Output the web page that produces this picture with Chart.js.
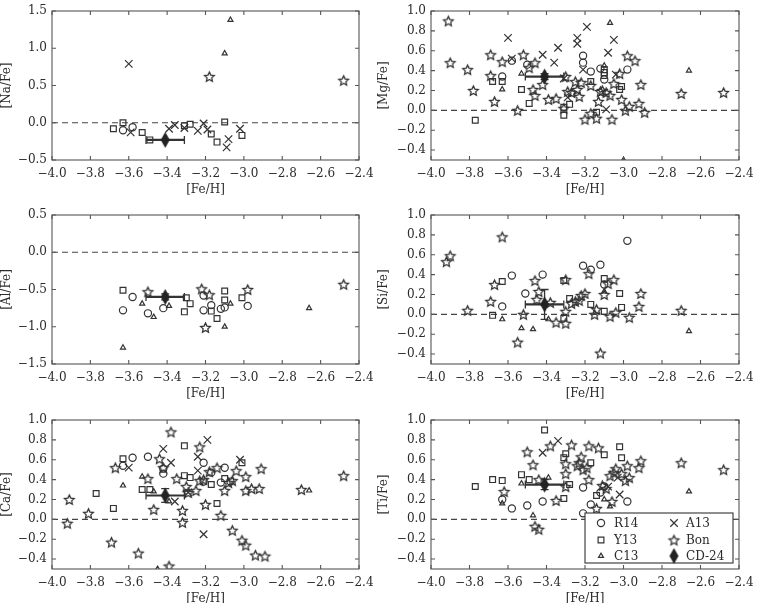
<!DOCTYPE html>
<html>
<head>
<meta charset="utf-8">
<script src="https://cdn.jsdelivr.net/npm/chart.js@4.4.0/dist/chart.umd.min.js"></script>
<style>
html, body { margin: 0; padding: 0; background: #fff; overflow: hidden; }
#wrap { position: relative; width: 762px; height: 603px; }
canvas { position: absolute; }
</style>
</head>
<body>
<div id="wrap">
  <canvas id="cNa" width="381" height="200" style="left:0;top:0"></canvas>
  <canvas id="cMg" width="385" height="200" style="left:377px;top:0"></canvas>
  <canvas id="cAl" width="381" height="200" style="left:0;top:204px"></canvas>
  <canvas id="cSi" width="385" height="200" style="left:377px;top:204px"></canvas>
  <canvas id="cCa" width="381" height="200" style="left:0;top:409px"></canvas>
  <canvas id="cTi" width="385" height="200" style="left:377px;top:409px"></canvas>
</div>
<script>
// surveys, in legend order
const surveys = ['R14', 'Y13', 'C13', 'A13', 'Bon', 'CD-24'];

// axis ticks
const feTicks = [-4.0, -3.8, -3.6, -3.4, -3.2, -3.0, -2.8, -2.6, -2.4];
const naTicks = [-0.5, 0.0, 0.5, 1.0, 1.5];
const alTicks = [-1.5, -1.0, -0.5, 0.0, 0.5];
const mgTicks = [-0.4, -0.2, 0.0, 0.2, 0.4, 0.6, 0.8, 1.0];
const siTicks = [-0.4, -0.2, 0.0, 0.2, 0.4, 0.6, 0.8, 1.0];
const caTicks = [-0.4, -0.2, 0.0, 0.2, 0.4, 0.6, 0.8, 1.0];
const tiTicks = [-0.4, -0.2, 0.0, 0.2, 0.4, 0.6, 0.8, 1.0];

// solar reference line
const refLine = [[-4.0, 0.0], [-2.4, 0.0]];

// [Na/Fe] vs [Fe/H]
const naR14 = [[-3.63,-0.10],[-3.58,-0.06]];
const naY13 = [[-3.68,-0.08],[-3.63,0.00],[-3.53,-0.13],[-3.49,-0.23],[-3.31,-0.04],[-3.28,-0.02],[-3.17,-0.15],[-3.14,-0.26],[-3.10,0.01],[-3.01,-0.17]];
const naC13 = [[-3.07,1.38],[-3.10,0.93]];
const naA13 = [[-3.60,0.79],[-3.59,-0.13],[-3.39,-0.08],[-3.36,-0.03],[-3.31,-0.07],[-3.24,-0.11],[-3.21,-0.01],[-3.19,-0.09],[-3.08,-0.22],[-3.09,-0.33],[-3.02,-0.08]];
const naBon = [[-3.18,0.62],[-2.48,0.57]];
const naCD = [-3.41, -0.23], naErr = [0.10, 0.0];

// [Mg/Fe]
const mgR14 = [[-3.58,0.50],[-3.63,0.34],[-3.50,0.46],[-3.21,0.55],[-3.21,0.48],[-3.17,0.39],[-3.12,0.42],[-3.10,0.31],[-2.98,0.41]];
const mgY13 = [[-3.68,0.29],[-3.63,0.29],[-3.77,-0.10],[-3.53,0.21],[-3.49,0.07],[-3.31,-0.05],[-3.28,0.06],[-3.31,0.03],[-3.17,0.29],[-3.14,-0.02],[-3.10,0.41],[-3.10,0.38],[-3.10,0.35],[-3.01,0.24],[-3.02,0.21]];
const mgC13 = [[-3.07,0.88],[-3.53,0.37],[-3.63,0.21],[-3.10,0.45],[-2.66,0.40],[-3.00,-0.50]];
const mgA13 = [[-3.60,0.73],[-3.58,0.52],[-3.42,0.56],[-3.36,0.48],[-3.34,0.63],[-3.31,0.32],[-3.24,0.73],[-3.24,0.67],[-3.19,0.84],[-3.21,0.41],[-3.05,0.71],[-3.08,0.58],[-3.09,0.01],[-3.29,0.13],[-3.04,0.36]];
const mgBon = [[-3.91,0.90],[-3.90,0.48],[-3.81,0.41],[-3.78,0.20],[-3.67,0.09],[-3.69,0.56],[-3.69,0.35],[-3.63,0.49],[-3.55,0.00],[-3.52,0.56],[-3.49,0.43],[-3.46,0.48],[-3.47,0.21],[-3.46,0.15],[-3.42,0.26],[-3.39,0.11],[-3.35,0.12],[-3.31,0.02],[-3.30,0.34],[-3.29,0.19],[-3.27,0.18],[-3.25,0.29],[-3.24,0.21],[-3.23,0.14],[-3.22,0.28],[-3.20,-0.09],[-3.17,0.25],[-3.17,-0.03],[-3.14,-0.08],[-3.13,0.09],[-3.12,0.19],[-3.11,0.20],[-3.09,0.18],[-3.07,0.15],[-3.06,-0.09],[-3.05,0.27],[-3.02,0.37],[-3.01,0.11],[-2.99,0.00],[-2.98,0.55],[-2.97,0.04],[-2.94,0.50],[-2.92,0.07],[-2.91,0.26],[-2.89,-0.02],[-2.70,0.17],[-2.48,0.18]];
const mgCD = [-3.41, 0.34], mgErr = [0.10, 0.03];

// [Al/Fe]
const alR14 = [[-3.63,-0.78],[-3.58,-0.60],[-3.50,-0.82],[-3.42,-0.75],[-3.21,-0.58],[-3.21,-0.78],[-3.17,-0.71],[-3.12,-0.76],[-3.10,-0.74],[-2.98,-0.72]];
const alY13 = [[-3.63,-0.51],[-3.30,-0.61],[-3.28,-0.69],[-3.31,-0.80],[-3.17,-0.79],[-3.14,-0.89],[-3.10,-0.52],[-3.10,-0.64],[-3.01,-0.61]];
const alC13 = [[-3.63,-1.28],[-3.53,-0.69],[-3.47,-0.87],[-3.39,-0.72],[-3.07,-0.69],[-3.10,-1.00],[-2.66,-0.75]];
const alA13 = [];
const alBon = [[-3.50,-0.53],[-3.22,-0.49],[-3.18,-0.57],[-3.20,-1.01],[-2.98,-0.50],[-2.48,-0.43]];
const alCD = [-3.41, -0.60], alErr = [0.10, 0.04];

// [Si/Fe]
const siR14 = [[-3.58,0.39],[-3.63,0.08],[-3.51,0.21],[-3.42,0.40],[-3.21,0.49],[-3.17,0.45],[-3.12,0.50],[-3.10,0.30],[-2.98,0.74]];
const siY13 = [[-3.68,-0.01],[-3.63,0.33],[-3.31,0.34],[-3.31,-0.04],[-3.28,0.16],[-3.17,0.10],[-3.10,0.36],[-3.10,0.03],[-3.02,0.21],[-3.01,0.07]];
const siC13 = [[-3.63,-0.05],[-3.53,-0.14],[-3.47,-0.15],[-3.39,-0.05],[-3.10,0.23],[-2.66,-0.17]];
const siA13 = [];
const siBon = [[-3.92,0.53],[-3.90,0.59],[-3.81,0.04],[-3.63,0.78],[-3.69,0.13],[-3.67,0.30],[-3.55,-0.28],[-3.52,0.00],[-3.46,0.34],[-3.44,0.23],[-3.45,0.15],[-3.38,0.12],[-3.35,-0.08],[-3.30,-0.09],[-3.30,0.03],[-3.30,0.35],[-3.27,0.11],[-3.25,0.13],[-3.23,0.14],[-3.22,0.19],[-3.20,0.21],[-3.18,0.41],[-3.15,0.00],[-3.14,0.05],[-3.12,-0.39],[-3.10,0.20],[-3.07,-0.02],[-3.08,0.31],[-3.05,0.35],[-3.04,0.02],[-2.97,-0.03],[-2.92,0.08],[-2.91,0.21],[-2.70,0.04]];
const siCD = [-3.41, 0.10], siErr = [0.10, 0.15];

// [Ca/Fe]
const caR14 = [[-3.63,0.54],[-3.58,0.62],[-3.50,0.63],[-3.42,0.51],[-3.42,0.46],[-3.21,0.57],[-3.17,0.47],[-3.10,0.52],[-3.12,0.37],[-3.07,0.38],[-3.21,0.38]];
const caY13 = [[-3.63,0.61],[-3.77,0.26],[-3.68,0.11],[-3.53,0.30],[-3.49,0.30],[-3.31,0.74],[-3.31,0.44],[-3.28,0.42],[-3.17,0.35],[-3.14,0.16],[-3.10,0.41],[-3.01,0.57]];
const caC13 = [[-3.63,0.34],[-3.53,0.43],[-3.47,0.28],[-3.39,0.18],[-2.66,0.29],[-3.45,-0.50]];
const caA13 = [[-3.42,0.71],[-3.38,0.57],[-3.60,0.52],[-3.24,0.63],[-3.19,0.80],[-3.24,0.49],[-3.02,0.60],[-3.36,0.18],[-3.29,0.27],[-3.21,-0.15]];
const caBon = [[-3.91,0.20],[-3.92,-0.04],[-3.81,0.06],[-3.69,-0.23],[-3.67,0.52],[-3.55,-0.34],[-3.50,0.41],[-3.44,0.61],[-3.42,0.52],[-3.47,0.10],[-3.38,0.88],[-3.39,-0.47],[-3.35,0.41],[-3.32,0.09],[-3.32,-0.03],[-3.30,0.33],[-3.29,0.27],[-3.25,0.29],[-3.23,0.73],[-3.23,0.39],[-3.21,0.40],[-3.20,0.15],[-3.18,0.48],[-3.14,0.52],[-3.12,0.04],[-3.10,0.29],[-3.08,0.37],[-3.06,0.39],[-3.06,-0.11],[-3.04,0.49],[-3.01,-0.21],[-2.99,0.43],[-2.99,0.29],[-2.99,-0.26],[-2.96,0.31],[-2.94,-0.36],[-2.92,0.31],[-2.91,0.51],[-2.89,-0.37],[-2.70,0.30],[-2.48,0.44]];
const caCD = [-3.41, 0.24], caErr = [0.10, 0.07];

// [Ti/Fe]
const tiR14 = [[-3.63,0.20],[-3.58,0.11],[-3.50,0.14],[-3.42,0.18],[-3.21,0.32],[-3.21,0.06],[-3.17,0.15],[-3.12,0.27],[-3.10,0.33],[-2.98,0.18]];
const tiY13 = [[-3.77,0.33],[-3.68,0.40],[-3.63,0.39],[-3.53,0.45],[-3.49,0.40],[-3.41,0.90],[-3.31,0.62],[-3.30,0.66],[-3.28,0.35],[-3.31,0.21],[-3.17,0.57],[-3.10,0.65],[-3.02,0.73],[-3.01,0.62],[-3.14,0.24]];
const tiC13 = [[-3.53,0.36],[-3.39,0.42],[-3.63,0.16],[-3.47,0.04],[-3.10,0.20],[-3.07,0.13],[-2.66,0.28]];
const tiA13 = [[-3.42,0.67],[-3.34,0.79],[-3.08,0.33],[-3.03,0.42],[-3.02,0.25]];
const tiBon = [[-3.50,0.68],[-3.47,0.55],[-3.38,0.74],[-3.27,0.75],[-3.18,0.74],[-3.13,0.72],[-3.30,0.56],[-3.30,0.46],[-3.30,0.33],[-3.35,0.19],[-3.24,0.54],[-3.22,0.63],[-3.21,0.50],[-3.19,0.52],[-3.18,0.40],[-3.14,0.11],[-3.11,0.34],[-3.07,0.44],[-3.06,0.18],[-3.05,0.47],[-3.04,0.51],[-3.01,0.46],[-2.99,0.39],[-2.98,0.54],[-2.97,0.42],[-2.92,0.52],[-2.91,0.59],[-2.70,0.57],[-2.48,0.50],[-3.62,0.28],[-3.46,-0.07],[-3.44,-0.10],[-3.44,0.40],[-3.09,0.31],[-3.23,0.57]];
const tiCD = [-3.41, 0.35], tiErr = [0.10, 0.05];

const ink = '#333';
Chart.defaults.font.family = "'DejaVu Serif', serif";
Chart.defaults.font.size = 12;
Chart.defaults.color = '#2b2b2b';

// open five-pointed star and tall filled diamond as point images
function starImg(r) {
  const c = document.createElement('canvas');
  const s = Math.ceil(r * 2 + 4);
  c.width = c.height = s;
  const g = c.getContext('2d');
  g.translate(s / 2, s / 2 + 0.6);
  g.beginPath();
  for (let i = 0; i < 10; i++) {
    const rr = i % 2 ? r * 0.48 : r;
    const a = -Math.PI / 2 + i * Math.PI / 5;
    g.lineTo(rr * Math.cos(a), rr * Math.sin(a));
  }
  g.closePath();
  g.strokeStyle = ink;
  g.lineWidth = 1.3;
  g.stroke();
  return c;
}
function diamondImg(w, h) {
  const c = document.createElement('canvas');
  c.width = w + 2; c.height = h + 2;
  const g = c.getContext('2d');
  g.beginPath();
  g.moveTo(c.width / 2, 1);
  g.lineTo(c.width - 1, c.height / 2);
  g.lineTo(c.width / 2, c.height - 1);
  g.lineTo(1, c.height / 2);
  g.closePath();
  g.fillStyle = '#222';
  g.fill();
  return c;
}
const starPt = starImg(5.1);
const diamondPt = diamondImg(9, 16);
const styles = ['circle', 'rect', 'triangle', 'crossRot', starPt, diamondPt];
const radii = [3.6, 4.1, 2.9, 5.3, 6, 8];

const fmt = v => (v < 0 ? '\u2212' : '') + Math.abs(v).toFixed(1);

// box round the axes with inward ticks on all four sides
const frame = {
  id: 'frame',
  afterDatasetsDraw(chart) {
    const {ctx, chartArea: a, scales: {x, y}} = chart;
    ctx.save();
    ctx.strokeStyle = '#555';
    ctx.lineWidth = 1.1;
    ctx.strokeRect(a.left, a.top, a.right - a.left, a.bottom - a.top);
    ctx.beginPath();
    x.ticks.forEach(t => {
      const px = x.getPixelForValue(t.value);
      ctx.moveTo(px, a.bottom); ctx.lineTo(px, a.bottom - 4);
      ctx.moveTo(px, a.top); ctx.lineTo(px, a.top + 4);
    });
    y.ticks.forEach(t => {
      const py = y.getPixelForValue(t.value);
      ctx.moveTo(a.left, py); ctx.lineTo(a.left + 4, py);
      ctx.moveTo(a.right, py); ctx.lineTo(a.right - 4, py);
    });
    ctx.stroke();
    ctx.restore();
  }
};

// error bars of CD-24, drawn just before its marker
function errBars(cd, err) {
  return {
    id: 'errbars',
    beforeDatasetDraw(chart, args) {
      if (chart.data.datasets[args.index].label !== 'CD-24') return;
      const {ctx, scales: {x, y}} = chart;
      const cx = x.getPixelForValue(cd[0]), cy = y.getPixelForValue(cd[1]);
      const x0 = x.getPixelForValue(cd[0] - err[0]), x1 = x.getPixelForValue(cd[0] + err[0]);
      ctx.save();
      ctx.strokeStyle = ink;
      ctx.lineWidth = 2.2;
      ctx.beginPath();
      ctx.moveTo(x0, cy); ctx.lineTo(x1, cy);
      ctx.stroke();
      ctx.lineWidth = 1.3;
      ctx.beginPath();
      ctx.moveTo(x0, cy - 4); ctx.lineTo(x0, cy + 4);
      ctx.moveTo(x1, cy - 4); ctx.lineTo(x1, cy + 4);
      if (err[1] > 0) {
        const y0 = y.getPixelForValue(cd[1] - err[1]), y1 = y.getPixelForValue(cd[1] + err[1]);
        ctx.moveTo(cx, y0); ctx.lineTo(cx, y1);
        ctx.moveTo(cx - 4, y0); ctx.lineTo(cx + 4, y0);
        ctx.moveTo(cx - 4, y1); ctx.lineTo(cx + 4, y1);
      }
      ctx.stroke();
      ctx.restore();
    }
  };
}

// legend box in the lower right of the Ti panel
const legendBox = {
  id: 'legendBox',
  afterDraw(chart) {
    const {ctx, chartArea: a} = chart;
    const w = 148, h = 50;
    const L = a.right - 6 - w, T = a.bottom - 6 - h;
    ctx.save();
    ctx.fillStyle = '#fff';
    ctx.fillRect(L, T, w, h);
    ctx.strokeStyle = '#444';
    ctx.lineWidth = 1.2;
    ctx.strokeRect(L, T, w, h);
    const rows = [10, 27, 43];
    ctx.font = "12px 'DejaVu Serif', serif";
    ctx.textBaseline = 'middle';
    surveys.forEach((name, i) => {
      const col = Math.floor(i / 3), row = i % 3;
      const mx = L + (col ? 89 : 16), my = T + rows[row];
      ctx.strokeStyle = ink;
      ctx.fillStyle = 'rgba(0,0,0,0)';
      ctx.lineWidth = 1.2;
      ctx.beginPath();
      Chart.helpers.drawPoint(ctx, {pointStyle: styles[i], radius: radii[i], rotation: 0, borderWidth: 1.2}, mx, my);
      ctx.fillStyle = '#2b2b2b';
      ctx.fillText(name, L + (col ? 101 : 29), my + 1);
    });
    ctx.restore();
  }
};

const panels = [
  {id: 'cNa', label: '[Na/Fe]', min: -0.5, max: 1.5, ticks: naTicks, sets: [naR14, naY13, naC13, naA13, naBon], cd: naCD, err: naErr, right: false},
  {id: 'cMg', label: '[Mg/Fe]', min: -0.5, max: 1.0, ticks: mgTicks, sets: [mgR14, mgY13, mgC13, mgA13, mgBon], cd: mgCD, err: mgErr, right: true},
  {id: 'cAl', label: '[Al/Fe]', min: -1.5, max: 0.5, ticks: alTicks, sets: [alR14, alY13, alC13, alA13, alBon], cd: alCD, err: alErr, right: false},
  {id: 'cSi', label: '[Si/Fe]', min: -0.5, max: 1.0, ticks: siTicks, sets: [siR14, siY13, siC13, siA13, siBon], cd: siCD, err: siErr, right: true},
  {id: 'cCa', label: '[Ca/Fe]', min: -0.5, max: 1.0, ticks: caTicks, sets: [caR14, caY13, caC13, caA13, caBon], cd: caCD, err: caErr, right: false},
  {id: 'cTi', label: '[Ti/Fe]', min: -0.5, max: 1.0, ticks: tiTicks, sets: [tiR14, tiY13, tiC13, tiA13, tiBon], cd: tiCD, err: tiErr, right: true, legend: true}
];

panels.forEach(p => {
  const toXY = pts => pts.map(([x, y]) => ({x, y}));
  const datasets = p.sets.map((pts, i) => ({
    label: surveys[i],
    data: toXY(pts),
    pointStyle: styles[i],
    pointRadius: radii[i],
    pointHoverRadius: radii[i],
    borderColor: ink,
    backgroundColor: 'rgba(0,0,0,0)',
    borderWidth: 1.2,
    clip: 0
  }));
  datasets.push({
    label: 'CD-24',
    data: [{x: p.cd[0], y: p.cd[1]}],
    pointStyle: diamondPt,
    pointRadius: 8,
    order: -1,
    clip: 0
  });
  datasets.push({
    label: 'ref',
    data: toXY(refLine),
    showLine: true,
    pointRadius: 0,
    borderColor: '#444',
    borderWidth: 1.2,
    borderDash: [6, 4],
    order: 1
  });

  new Chart(document.getElementById(p.id), {
    type: 'scatter',
    data: {datasets: datasets},
    options: {
      responsive: false,
      animation: false,
      events: [],
      layout: {padding: {top: 6, right: p.right ? 23 : 22, bottom: 3, left: 0}},
      scales: {
        x: {
          type: 'linear',
          min: -4.0,
          max: -2.4,
          afterBuildTicks: s => { s.ticks = feTicks.map(v => ({value: v})); },
          afterFit: s => { s.height = 37; },
          grid: {display: false, drawTicks: false},
          border: {display: false},
          ticks: {padding: 7, autoSkip: false, maxRotation: 0, minRotation: 0, callback: fmt},
          title: {display: true, text: '[Fe/H]', padding: 0}
        },
        y: {
          min: p.min,
          max: p.max,
          afterBuildTicks: s => { s.ticks = p.ticks.map(v => ({value: v})); },
          afterFit: s => { s.width = p.right ? 54 : 52; },
          grid: {display: false, drawTicks: false},
          border: {display: false},
          ticks: {padding: 5, callback: fmt, font: {lineHeight: 1}},
          title: {display: true, text: p.label, padding: 0}
        }
      },
      plugins: {
        legend: {display: false},
        tooltip: {enabled: false}
      }
    },
    plugins: [frame, errBars(p.cd, p.err)].concat(p.legend ? [legendBox] : [])
  });
});
</script>
</body>
</html>
